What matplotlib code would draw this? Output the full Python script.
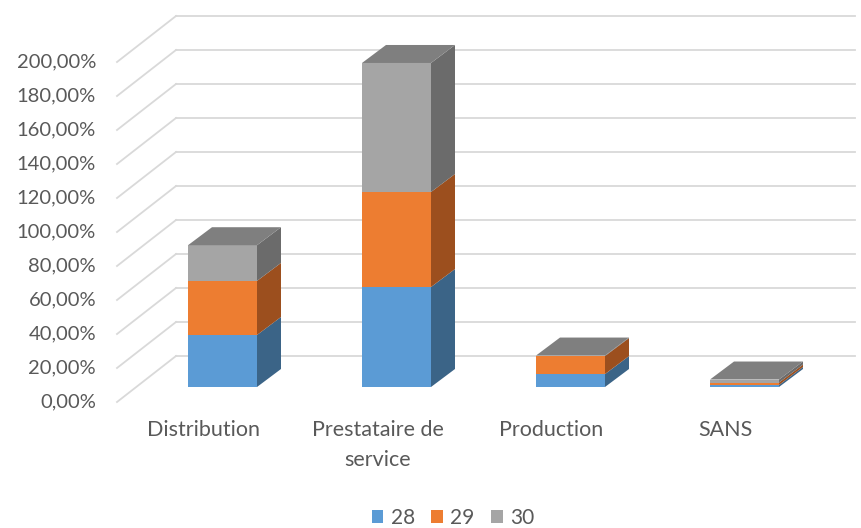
import numpy as np
import matplotlib.pyplot as plt
from matplotlib.patches import Polygon, Patch

categories = ['Distribution', 'Prestataire de\nservice', 'Production', 'SANS']
series_names = ['28', '29', '30']
s28 = [30.6, 58.8, 7.6, 1.2]
s29 = [31.8, 55.9, 10.6, 1.4]
s30 = [21.0, 75.9, 0.3, 1.8]
tick_values = [0, 20, 40, 60, 80, 100, 120, 140, 160, 180, 200]
tick_labels = ['0,00%', '20,00%', '40,00%', '60,00%', '80,00%', '100,00%',
               '120,00%', '140,00%', '160,00%', '180,00%', '200,00%']

front = ['#5B9BD5', '#ED7D31', '#A5A5A5']
side = ['#3B6487', '#9C4F1E', '#6B6B6B']
top = ['#4A7DAB', '#BE6428', '#7F7F7F']
text_col = '#595959'
grid_col = '#D9D9D9'

plt.rcParams['font.family'] = ['Lato', 'DejaVu Sans']

fig = plt.figure(figsize=(8.61, 5.28), dpi=100)
ax = fig.add_axes([0, 0, 1, 1])
# pixel -> data mapping: 174 px per category, 1.7 px per percent
ax.set_xlim(-222.5 / 174, (861 - 222.5) / 174)
ax.set_ylim((387 - 528) / 1.7, 387 / 1.7)
ax.axis('off')

dx = 24 / 174      # bar depth, in category units
dy = 18 / 1.7      # bar depth, in percent units
wall_x0 = (176 - 222.5) / 174
wall_x1 = (855 - 222.5) / 174
wall_dy = 31 / 1.7
floor_x = (117 - 222.5) / 174
floor_dy = -15 / 1.7

# back wall + side wall gridlines
for v in tick_values:
    ax.plot([wall_x0, wall_x1], [v + wall_dy, v + wall_dy], color=grid_col, lw=1.3, zorder=0)
    ax.plot([floor_x, wall_x0], [v + floor_dy, v + wall_dy], color=grid_col, lw=1.3, zorder=0)

for v, lab in zip(tick_values, tick_labels):
    ax.text((96 - 222.5) / 174, v + floor_dy, lab, ha='right', va='center',
            fontsize=14.5, color=text_col)

x = np.arange(len(categories))
w = 69 / 174
data = [s28, s29, s30]
bottom = np.zeros(len(categories))
for k, vals in enumerate(data):
    vals = np.array(vals)
    ax.bar(x, vals, w, bottom=bottom, color=front[k], zorder=3)
    for i in range(len(x)):
        xr = x[i] + w / 2
        b, t = bottom[i], bottom[i] + vals[i]
        ax.add_patch(Polygon([(xr, b), (xr + dx, b + dy), (xr + dx, t + dy), (xr, t)],
                             closed=True, facecolor=side[k], edgecolor='none', zorder=3))
    bottom = bottom + vals

# top face of each stack
for i in range(len(x)):
    xl, xr = x[i] - w / 2, x[i] + w / 2
    t = bottom[i]
    ax.add_patch(Polygon([(xl, t), (xr, t), (xr + dx, t + dy), (xl + dx, t + dy)],
                         closed=True, facecolor=top[2], edgecolor='none', zorder=3))

for i, cat in enumerate(categories):
    ax.text(x[i] - 19 / 174, (387 - 420) / 1.7, cat, ha='center', va='top',
            fontsize=15.5, color=text_col, linespacing=1.65)

handles = [Patch(facecolor=c, edgecolor='none') for c in front]
fig.legend(handles, series_names, loc='center', bbox_to_anchor=(453 / 861, 10 / 528), ncol=3,
           frameon=False, fontsize=15, labelcolor=text_col, handlelength=0.55, handleheight=0.55,
           handletextpad=0.35, columnspacing=0.8, borderpad=0)

fig.savefig('out.png', dpi=100)
